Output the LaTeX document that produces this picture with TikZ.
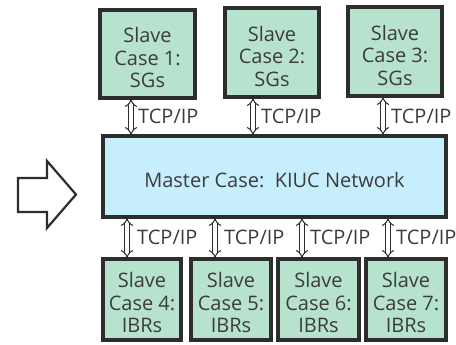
\documentclass[tikz,border=0pt]{standalone}
\usepackage{fontspec}
\setmainfont{Open Sans}
\usetikzlibrary{arrows.meta}
\definecolor{slavefill}{RGB}{183,226,205}
\definecolor{masterfill}{RGB}{199,238,252}
\definecolor{edge}{RGB}{45,45,45}
\definecolor{ink}{RGB}{60,60,60}
\tikzset{
  x=1pt, y=-1pt,
  slavebox/.style={draw=edge, line width=3.5pt, fill=slavefill, inner sep=0pt},
  masterbox/.style={draw=edge, line width=3.5pt, fill=masterfill, inner sep=0pt},
  boxtext/.style={text=ink, align=center, inner sep=0pt, font=\fontsize{20}{22.5}\selectfont},
  link/.style={draw=edge, line width=1pt, double=white, double distance=3.2pt,
    {Implies[length=5pt]}-{Implies[length=5pt]}, shorten <=-1pt, shorten >=-1pt},
  linklabel/.style={text=ink, font=\fontsize{20}{22}\selectfont, inner sep=0pt, anchor=west},
  bigarrow/.style={draw=edge, line width=2.2pt, fill=white, line join=miter}
}
\begin{document}
\begin{tikzpicture}
\useasboundingbox (0,0) rectangle (456,345);
% slave cases with synchronous generators
\node[slavebox, minimum width=95pt, minimum height=88pt] (s1) at (147.5,54) {};
\node[slavebox, minimum width=94pt, minimum height=89pt] (s2) at (272,52.5) {};
\node[slavebox, minimum width=94pt, minimum height=89pt] (s3) at (395,51.5) {};
\node[boxtext] (t1) at ([yshift=-4pt]s1.center) {Slave\\Case 1:\\SGs};
\node[boxtext] (t2) at ([yshift=-4pt]s2.center) {Slave\\Case 2:\\SGs};
\node[boxtext] (t3) at ([yshift=-4pt]s3.center) {Slave\\Case 3:\\SGs};
% master case
\node[masterbox, minimum width=343pt, minimum height=81pt] (m) at (274.5,176.5) {};
\node[boxtext] (tm) at ([yshift=-3.5pt]m.center) {Master Case:\ \ KIUC Network};
% slave cases with inverter-based resources
\node[slavebox, minimum width=78pt, minimum height=81pt] (s4) at (142,299.5) {};
\node[slavebox, minimum width=80pt, minimum height=81pt] (s5) at (231,299.5) {};
\node[slavebox, minimum width=81pt, minimum height=81pt] (s6) at (318.5,299.5) {};
\node[slavebox, minimum width=80pt, minimum height=81pt] (s7) at (406,299.5) {};
\node[boxtext] (t4) at ([yshift=-3pt]s4.center) {Slave\\Case 4:\\IBRs};
\node[boxtext] (t5) at ([yshift=-3pt]s5.center) {Slave\\Case 5:\\IBRs};
\node[boxtext] (t6) at ([yshift=-3pt]s6.center) {Slave\\Case 6:\\IBRs};
\node[boxtext] (t7) at ([yshift=-3pt]s7.center) {Slave\\Case 7:\\IBRs};
% link positions
\coordinate (x1) at (131,0);
\coordinate (x2) at (253,0);
\coordinate (x3) at (383,0);
\coordinate (x4) at (127,0);
\coordinate (x5) at (215,0);
\coordinate (x6) at (302,0);
\coordinate (x7) at (388,0);
% TCP/IP links
\draw[link] (s1.south -| x1) -- (m.north -| x1);
\draw[link] (s2.south -| x2) -- (m.north -| x2);
\draw[link] (s3.south -| x3) -- (m.north -| x3);
\draw[link] (m.south -| x4) -- (s4.north -| x4);
\draw[link] (m.south -| x5) -- (s5.north -| x5);
\draw[link] (m.south -| x6) -- (s6.north -| x6);
\draw[link] (m.south -| x7) -- (s7.north -| x7);
\node[linklabel] (l1) at (138,116) {TCP/IP};
\node[linklabel] (l2) at (261,116) {TCP/IP};
\node[linklabel] (l3) at (391,116) {TCP/IP};
\node[linklabel] (l4) at (137,237) {TCP/IP};
\node[linklabel] (l5) at (224,237) {TCP/IP};
\node[linklabel] (l6) at (310,237) {TCP/IP};
\node[linklabel] (l7) at (396,237) {TCP/IP};
% block arrow pointing at the master case
\draw[bigarrow] (18,178) -- (47,178) -- (47,161) -- (76,194.5) -- (47,228) -- (47,212) -- (18,212) -- cycle;
\end{tikzpicture}
\end{document}
